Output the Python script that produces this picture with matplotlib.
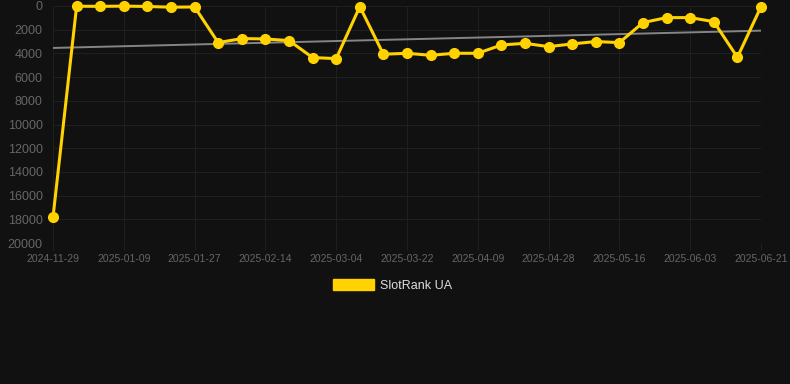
import numpy as np
import matplotlib.pyplot as plt
from matplotlib.patches import Patch

plt.rcParams["font.family"] = ["Liberation Sans", "DejaVu Sans"]

# dates on a category axis, every third one labelled
dates = [
    "2024-11-29", "2024-12-28", "2025-01-03", "2025-01-09", "2025-01-15",
    "2025-01-21", "2025-01-27", "2025-02-02", "2025-02-08", "2025-02-14",
    "2025-02-20", "2025-02-26", "2025-03-04", "2025-03-10", "2025-03-16",
    "2025-03-22", "2025-03-28", "2025-04-03", "2025-04-09", "2025-04-15",
    "2025-04-22", "2025-04-28", "2025-05-04", "2025-05-10", "2025-05-16",
    "2025-05-22", "2025-05-28", "2025-06-03", "2025-06-09", "2025-06-15",
    "2025-06-21",
]
rank = [
    17830, 20, 30, 10, 40, 100, 80, 3090, 2750, 2780,
    2920, 4350, 4440, 50, 4070, 3990, 4160, 3990, 3990, 3290,
    3150, 3430, 3200, 3000, 3090, 1400, 980, 980, 1320, 4330,
    60,
]
trend = [3540, 2080]  # gray trend line, first and last point
series_label = "SlotRank UA"

BG = "#111111"
GRID = "#1f1f1f"
TICK = "#666666"
YELLOW = "#FFD200"

fig = plt.figure(figsize=(7.9, 3.84), dpi=100, facecolor=BG)
ax = fig.add_axes([53 / 790, 1 - 243 / 384, (761 - 53) / 790, (243 - 6) / 384])
ax.set_facecolor(BG)

x = np.arange(len(dates))

ax.plot([x[0], x[-1]], trend, color="#858585", lw=1.4, zorder=2)
ax.plot(x, rank, color=YELLOW, lw=2.2, marker="o", markersize=7.0,
        clip_on=False, zorder=3)

ax.set_xlim(x[0], x[-1])
ax.set_ylim(20000, 0)
ax.set_yticks(np.arange(0, 20001, 2000))
ax.set_xticks(x[::3])
ax.set_xticklabels(dates[::3])

ax.grid(True, color=GRID, lw=0.8)
ax.set_axisbelow(True)
for s in ax.spines.values():
    s.set_visible(False)

ax.tick_params(axis="x", colors=GRID, labelcolor=TICK, labelsize=7.5,
               length=5, width=0.8, pad=3)
ax.tick_params(axis="y", colors=GRID, labelcolor=TICK, labelsize=9,
               length=0, pad=7.5)

handle = Patch(facecolor=YELLOW, edgecolor=YELLOW, label=series_label)
fig.legend(handles=[handle], loc="center", bbox_to_anchor=(392.5 / 790, 1 - 285.5 / 384),
           frameon=False, fontsize=9, labelcolor="#dddddd",
           handlelength=3.3, handleheight=0.9, handletextpad=0.5)

fig.savefig("out.png", dpi=100, facecolor=BG)
